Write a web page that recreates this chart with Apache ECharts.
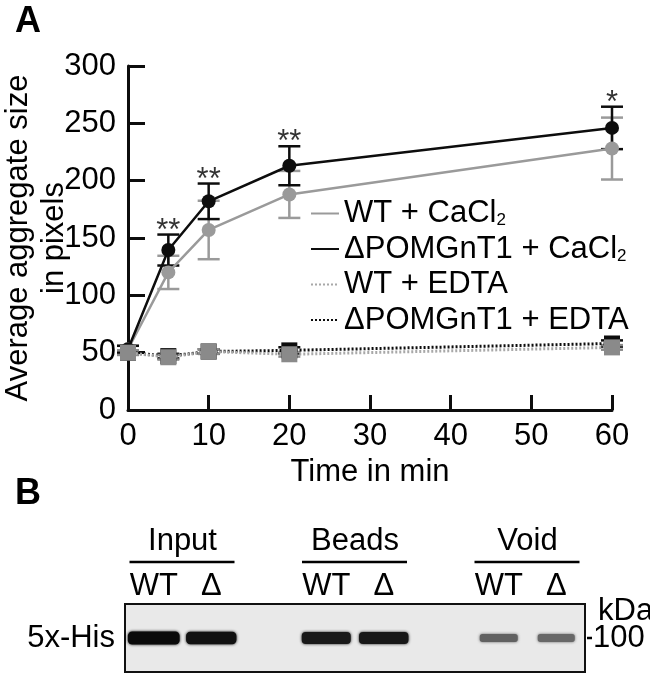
<!DOCTYPE html>
<html><head><meta charset="utf-8">
<script src="https://cdn.jsdelivr.net/npm/echarts@6/dist/echarts.min.js"></script>
<style>html,body{margin:0;padding:0;background:#fff}#c{width:650px;height:676px}</style>
</head><body><div id="c"></div>
<script>
// ---------- Panel A data ----------
const timePoints = [0, 5, 10, 20, 60];
const wtCaCl2 = [53, 120, 157, 188, 228];
const wtCaCl2Err = [3, 14.5, 25.5, 20.5, 27];
const koCaCl2 = [53, 139.5, 182, 213, 246];
const koCaCl2Err = [3, 13.5, 15.5, 17, 18.5];
const wtEdta = [50, 46, 51, 48.6, 54.6];
const wtEdtaErr = [2, 2, 2, 2, 2];
const koEdta = [50, 47, 51, 52, 58];
const koEdtaErr = [1.5, 2, 2, 2.7, 2.7];
const significance = ['', '**', '**', '**', '*'];
const seriesNames = ['WT + CaCl2', '\u0394POMGnT1 + CaCl2', 'WT + EDTA', '\u0394POMGnT1 + EDTA'];
const yTitle = 'Average aggregate size\nin pixels';
const xTitle = 'Time in min';

// ---------- Panel B data ----------
const laneGroups = ['Input', 'Beads', 'Void'];
const laneLabels = ['WT', '\u0394', '', 'WT', '\u0394', '', 'WT', '\u0394'];
const bandIntensity = [1.0, 0.94, null, 0.88, 0.9, null, 0.4, 0.36];
const blotLabel = '5x-His';
const mwUnit = 'kDa';
const mwMarker = '100';

const FONT = '"Liberation Sans", Arial, Helvetica, sans-serif';
const BLACK = '#0d0d0d';
const GRAY = '#9a9a9a';
const FS = 31;

function pairs(vals) { return timePoints.map((t, i) => [t, vals[i]]); }

function errSeries(vals, errs, color, z) {
  return {
    type: 'custom', xAxisIndex: 0, yAxisIndex: 0, z: z, silent: true,
    encode: { x: 0, y: 1 },
    data: timePoints.map((t, i) => [t, vals[i], errs[i]]),
    renderItem: function (params, api) {
      const x = api.value(0), y = api.value(1), e = api.value(2);
      const hi = api.coord([x, y + e]), lo = api.coord([x, y - e]);
      const hw = 11;
      const st = { stroke: color, lineWidth: 2.5 };
      return { type: 'group', children: [
        { type: 'line', shape: { x1: hi[0], y1: hi[1], x2: lo[0], y2: lo[1] }, style: st },
        { type: 'line', shape: { x1: hi[0] - hw, y1: hi[1], x2: hi[0] + hw, y2: hi[1] }, style: st },
        { type: 'line', shape: { x1: lo[0] - hw, y1: lo[1], x2: lo[0] + hw, y2: lo[1] }, style: st }
      ]};
    }
  };
}

function legendFormatter(name) {
  if (/2$/.test(name)) return '{t|' + name.slice(0, -1) + '}{s|2}';
  return '{t|' + name + '}';
}

const chart = echarts.init(document.getElementById('c'), null, { renderer: 'canvas' });

const option = {
  animation: false,
  backgroundColor: '#ffffff',
  textStyle: { fontFamily: FONT },
  grid: [
    { left: 128, right: 38, top: 66, bottom: 266, containLabel: false, outerBoundsMode: 'none' },
    { left: 125, top: 604, width: 460, height: 68, show: true, backgroundColor: '#e9e9e9', borderColor: '#111', borderWidth: 2, outerBoundsMode: 'none' }
  ],
  xAxis: [
    {
      type: 'value', gridIndex: 0, min: 0, max: 60, interval: 10,
      name: xTitle, nameLocation: 'middle', nameGap: 45,
      nameTextStyle: { fontSize: FS, color: '#000', fontFamily: FONT },
      axisLine: { lineStyle: { color: BLACK, width: 3 } },
      axisTick: { inside: true, length: 15, lineStyle: { color: BLACK, width: 3 } },
      axisLabel: { fontSize: FS, color: '#000', margin: 11, fontFamily: FONT },
      splitLine: { show: false }
    },
    {
      type: 'category', gridIndex: 1, data: laneLabels, position: 'top',
      axisLine: { show: false }, axisTick: { show: false },
      axisLabel: { fontSize: FS, color: '#000', margin: 2, fontFamily: FONT, interval: 0 },
      splitLine: { show: false }
    }
  ],
  yAxis: [
    {
      type: 'value', gridIndex: 0, min: 0, max: 300, interval: 50,
      name: yTitle, nameLocation: 'middle', nameGap: 56, nameRotate: 90, nameMoveOverlap: false,
      nameTextStyle: { fontSize: FS, color: '#000', lineHeight: 36, fontFamily: FONT },
      axisLine: { show: true, lineStyle: { color: BLACK, width: 3 } },
      axisTick: { show: true, inside: true, length: 17, lineStyle: { color: BLACK, width: 3 } },
      axisLabel: { fontSize: FS, color: '#000', margin: 12, fontFamily: FONT },
      splitLine: { show: false }
    },
    { type: 'value', gridIndex: 1, min: 0, max: 1, show: false }
  ],
  legend: {
    data: seriesNames, orient: 'vertical', left: 305, top: 193,
    itemWidth: 28, itemHeight: 14, itemGap: 4.5, selectedMode: false,
    itemStyle: { opacity: 0 },
    formatter: legendFormatter,
    textStyle: {
      color: '#000', fontFamily: FONT, fontSize: FS, lineHeight: 31,
      rich: {
        t: { fontSize: FS, lineHeight: 31, color: '#000', fontFamily: FONT },
        s: { fontSize: 17, lineHeight: 12, verticalAlign: 'bottom', color: '#000', fontFamily: FONT }
      }
    }
  },
  series: [
    errSeries(wtCaCl2, wtCaCl2Err, GRAY, 2),
    errSeries(koCaCl2, koCaCl2Err, BLACK, 3),
    {
      name: seriesNames[0], type: 'line', xAxisIndex: 0, yAxisIndex: 0, z: 4,
      data: pairs(wtCaCl2), symbol: 'circle', symbolSize: 14,
      lineStyle: { color: GRAY, width: 2.5 }, itemStyle: { color: GRAY }
    },
    {
      name: seriesNames[1], type: 'line', xAxisIndex: 0, yAxisIndex: 0, z: 5,
      data: pairs(koCaCl2), symbol: 'circle', symbolSize: 14,
      lineStyle: { color: BLACK, width: 2.5 }, itemStyle: { color: BLACK }
    },
    errSeries(koEdta, koEdtaErr, BLACK, 5),
    {
      name: seriesNames[3], type: 'line', xAxisIndex: 0, yAxisIndex: 0, z: 6,
      data: pairs(koEdta), symbol: 'rect', symbolSize: 16,
      lineStyle: { color: BLACK, width: 3, type: [2, 2] }, itemStyle: { color: BLACK }
    },
    errSeries(wtEdta, wtEdtaErr, '#8a8a8a', 6),
    {
      name: seriesNames[2], type: 'line', xAxisIndex: 0, yAxisIndex: 0, z: 7,
      data: pairs(wtEdta), symbol: 'rect', symbolSize: 16,
      lineStyle: { color: '#a8a8a8', width: 3, type: [2, 2] }, itemStyle: { color: '#8a8a8a' }
    },
    {
      type: 'scatter', xAxisIndex: 0, yAxisIndex: 0, z: 8, silent: true,
      symbolSize: 0,
      data: timePoints.map((t, i) => [t, koCaCl2[i] + koCaCl2Err[i], significance[i]]).filter(d => d[2]),
      label: {
        show: true, position: 'top', distance: -12,
        formatter: p => p.value[2],
        fontSize: FS, color: '#000', fontFamily: FONT
      }
    },
    {
      type: 'custom', xAxisIndex: 1, yAxisIndex: 1, z: 3, silent: true,
      encode: { x: 0, y: 1 },
      data: bandIntensity.map((v, i) => [i, 0.5, v]).filter(d => d[2] != null),
      renderItem: function (params, api) {
        const lane = api.value(0), I = api.value(2);
        const c = api.coord([lane, api.value(1)]);
        const slot = api.size([1, 0])[0];
        const w = slot * (0.5 + 0.4 * I);
        const h = 5 + 8 * I;
        const g = Math.round(215 - 205 * Math.pow(I, 0.6));
        const col = 'rgb(' + g + ',' + g + ',' + g + ')';
        return {
          type: 'rect',
          shape: { x: c[0] - w / 2, y: c[1] - h / 2, width: w, height: h, r: h / 3 },
          style: { fill: col, shadowBlur: 3, shadowColor: col }
        };
      }
    }
  ]
};

chart.setOption(option);

// Annotations for panel B placed from the lane axis positions
const lanePx = laneLabels.map((_, i) => chart.convertToPixel({ xAxisIndex: 1 }, i));
const grid1Top = chart.convertToPixel({ yAxisIndex: 1 }, 1);
const bandY = chart.convertToPixel({ yAxisIndex: 1 }, 0.5);
const gridLeft = lanePx[0] - (lanePx[1] - lanePx[0]) / 2;
const gridRight = lanePx[7] + (lanePx[1] - lanePx[0]) / 2;
const graphics = [
  { type: 'text', left: 15, top: 4, style: { text: 'A', font: 'bold 36px ' + FONT, fill: '#000' } },
  { type: 'text', left: 15, top: 476, style: { text: 'B', font: 'bold 36px ' + FONT, fill: '#000' } },
  { type: 'text', x: gridLeft - 10, y: bandY, style: { text: blotLabel, font: FS + 'px ' + FONT, fill: '#000', align: 'right', verticalAlign: 'middle' } },
  { type: 'text', x: gridRight + 13, y: bandY - 27, style: { text: mwUnit, font: FS + 'px ' + FONT, fill: '#000', align: 'left', verticalAlign: 'middle' } },
  { type: 'line', shape: { x1: gridRight + 2, y1: bandY, x2: gridRight + 7, y2: bandY }, style: { stroke: '#000', lineWidth: 2.5 } },
  { type: 'text', x: gridRight + 8, y: bandY, style: { text: mwMarker, font: FS + 'px ' + FONT, fill: '#000', align: 'left', verticalAlign: 'middle' } }
];
laneGroups.forEach((g, k) => {
  const a = lanePx[k * 3], b = lanePx[k * 3 + 1];
  const mid = (a + b) / 2;
  graphics.push({ type: 'text', x: mid, y: grid1Top - 63, style: { text: g, font: FS + 'px ' + FONT, fill: '#000', align: 'center', verticalAlign: 'middle' } });
  graphics.push({ type: 'line', shape: { x1: mid - 53, y1: grid1Top - 42, x2: mid + 52, y2: grid1Top - 42 }, style: { stroke: '#000', lineWidth: 2.5 } });
});
chart.setOption({ graphic: graphics });
</script>
</body></html>
